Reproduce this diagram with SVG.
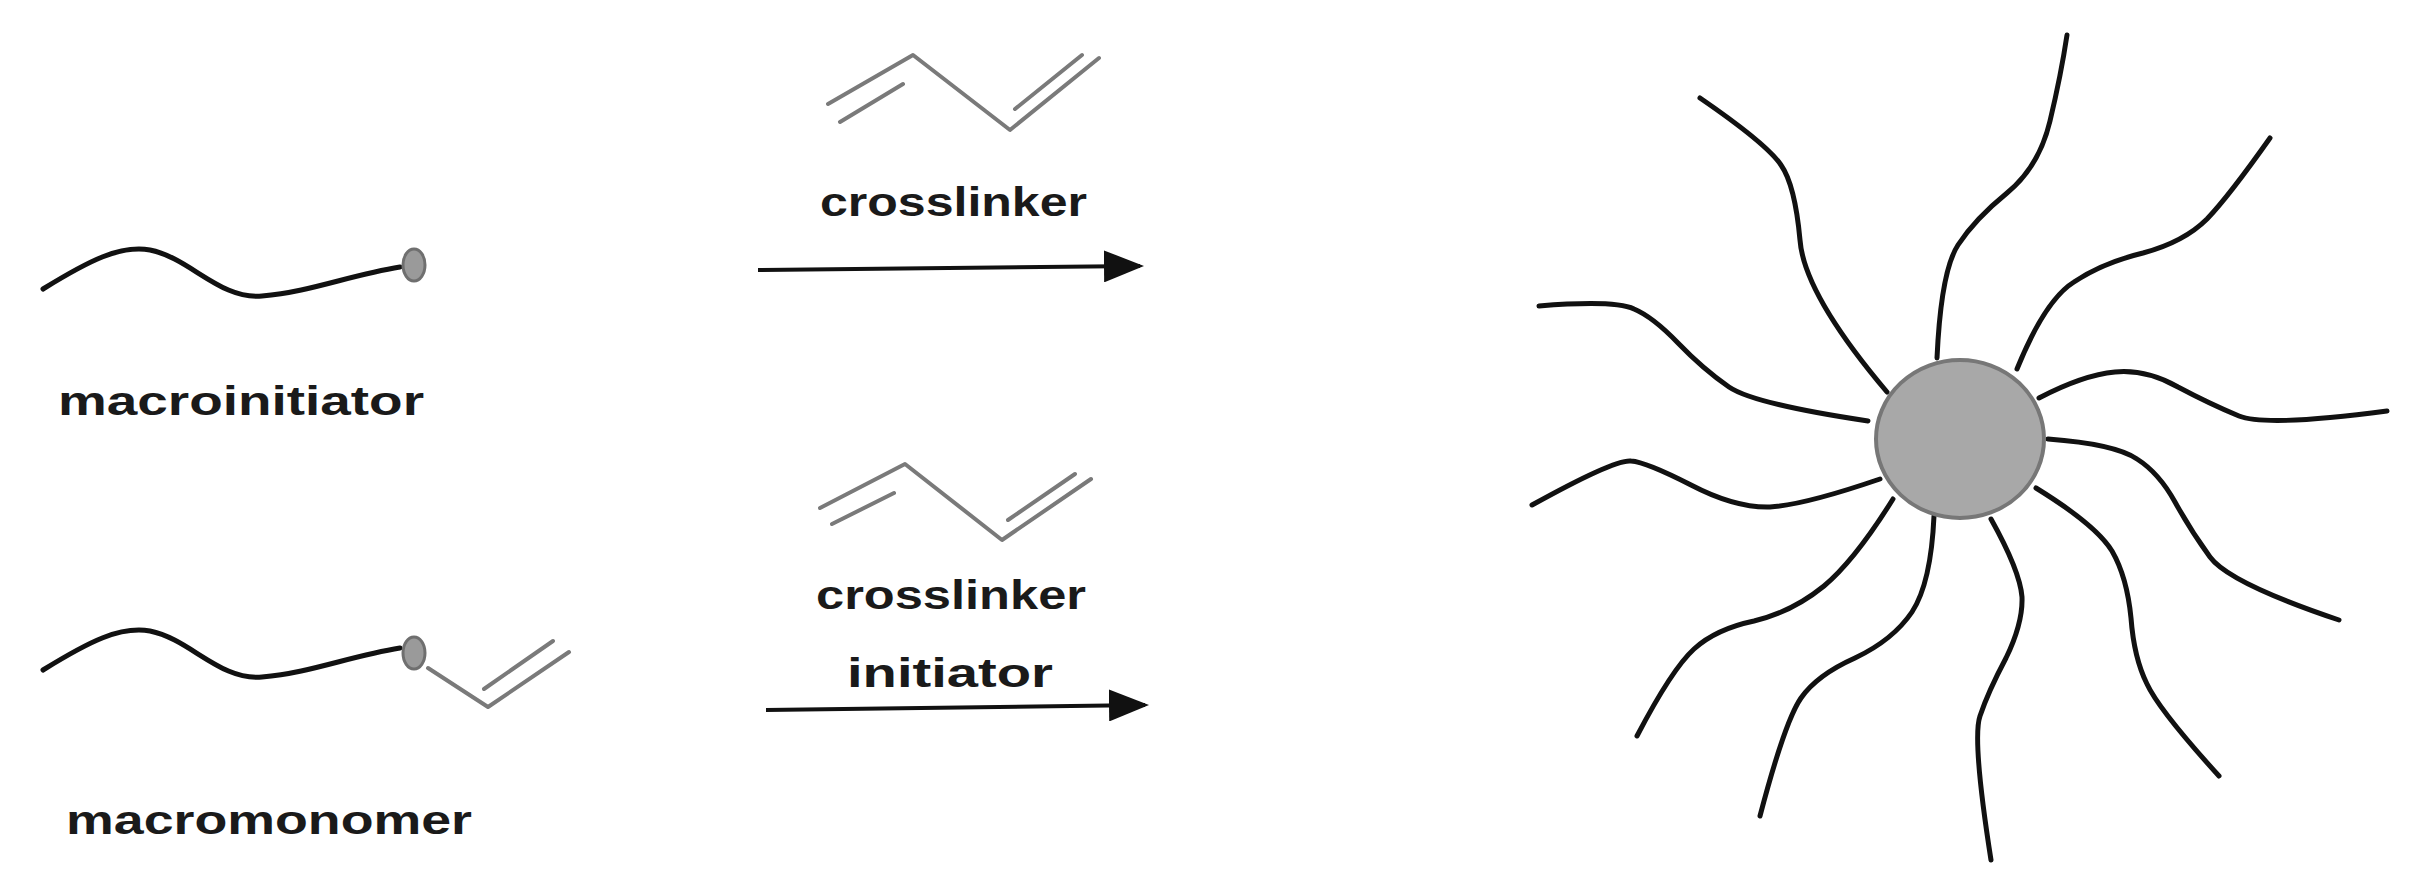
<svg xmlns="http://www.w3.org/2000/svg" width="2431" height="894" viewBox="0 0 2431 894">
<style>
.t{font-family:"Liberation Sans",Arial,sans-serif;font-weight:bold;font-size:40px;fill:#1a1a1a}
.ch{fill:none;stroke:#111;stroke-width:5;stroke-linecap:round}
.g{fill:none;stroke:#7a7a7a;stroke-width:4;stroke-linecap:round;stroke-linejoin:round}
.dot{fill:#9a9a9a;stroke:#6f6f6f;stroke-width:3}
.arm{fill:none;stroke:#111;stroke-width:5;stroke-linecap:round;stroke-linejoin:round}
.ar{stroke:#111;stroke-width:4}
</style>
<defs><marker id="ah" markerWidth="10" markerHeight="8" refX="9" refY="4" orient="auto" markerUnits="strokeWidth"><path d="M0,0 L10,4 L0,8 z" fill="#111"/></marker></defs>
<rect width="2431" height="894" fill="#fff"/>
<g id="macroinitiator">
<path class="ch" d="M43 289 C90 260 120 245 150 250 C190 258 220 300 262 296 C310 292 350 275 400 267"/>
<ellipse class="dot" cx="414" cy="265" rx="11" ry="16"/>
<text class="t" x="58" y="415" textLength="366" lengthAdjust="spacingAndGlyphs">macroinitiator</text>
</g>
<g id="macromonomer">
<path class="ch" d="M43 670 C90 641 120 626 150 631 C190 639 220 681 262 677 C310 673 350 656 400 648"/>
<ellipse class="dot" cx="414" cy="653" rx="11" ry="16"/>
<path class="g" d="M428 668 L488 707 L569 652 M484 689 L553 641"/>
<text class="t" x="66" y="834" textLength="406" lengthAdjust="spacingAndGlyphs">macromonomer</text>
</g>
<g id="crosslinker1">
<path class="g" d="M828 104 L913 55 L1010 130 L1099 58 M840 122 L903 84 M1015 109 L1082 55"/>
<text class="t" x="820" y="216" textLength="267" lengthAdjust="spacingAndGlyphs">crosslinker</text>
</g>
<g id="crosslinker2">
<path class="g" d="M820 508 L905 464 L1002 540 L1091 479 M832 524 L894 493 M1008 520 L1075 474"/>
<text class="t" x="816" y="609" textLength="270" lengthAdjust="spacingAndGlyphs">crosslinker</text>
<text class="t" x="847" y="687" textLength="206" lengthAdjust="spacingAndGlyphs">initiator</text>
</g>
<g id="connectors">
<line class="ar" x1="758" y1="270" x2="1140" y2="266" marker-end="url(#ah)"/>
<line class="ar" x1="766" y1="710" x2="1145" y2="705" marker-end="url(#ah)"/>
</g>
<g id="star">
<path class="arm" d="M1937 358 Q1941 271 1958 245 Q1975 219 2007 193 Q2039 167 2050 121 Q2061 75 2067 35"/>
<path class="arm" d="M1887 392 Q1804 294 1800 240 Q1795 185 1781 165 Q1767 144 1700 98"/>
<path class="arm" d="M2017 369 Q2045 300 2074 282 Q2102 263 2143 253 Q2184 242 2207 219 Q2229 196 2270 138"/>
<path class="arm" d="M2039 398 Q2083 375 2115 372 Q2146 369 2178 387 Q2210 404 2239 416 Q2267 427 2387 411"/>
<path class="arm" d="M1868 421 Q1754 404 1729 387 Q1703 369 1678 343 Q1653 317 1634 309 Q1615 300 1539 306"/>
<path class="arm" d="M1880 479 Q1804 505 1770 507 Q1735 508 1691 485 Q1646 462 1631 461 Q1615 459 1532 505"/>
<path class="arm" d="M2048 439 Q2115 444 2137 459 Q2159 473 2175 502 Q2191 531 2210 557 Q2229 583 2339 620"/>
<path class="arm" d="M2036 488 Q2096 525 2112 551 Q2127 577 2131 618 Q2134 658 2147 684 Q2159 710 2219 776"/>
<path class="arm" d="M1991 519 Q2020 571 2022 597 Q2023 623 2006 658 Q1988 692 1980 716 Q1972 739 1991 860"/>
<path class="arm" d="M1934 516 Q1931 583 1912 612 Q1893 640 1855 658 Q1817 675 1801 698 Q1785 721 1760 816"/>
<path class="arm" d="M1893 499 Q1855 560 1824 586 Q1792 612 1754 621 Q1716 629 1694 649 Q1672 669 1637 736"/>
<ellipse cx="1960" cy="439" rx="84" ry="79" fill="#a8a8a8" stroke="#777" stroke-width="4"/>
</g>
</svg>
